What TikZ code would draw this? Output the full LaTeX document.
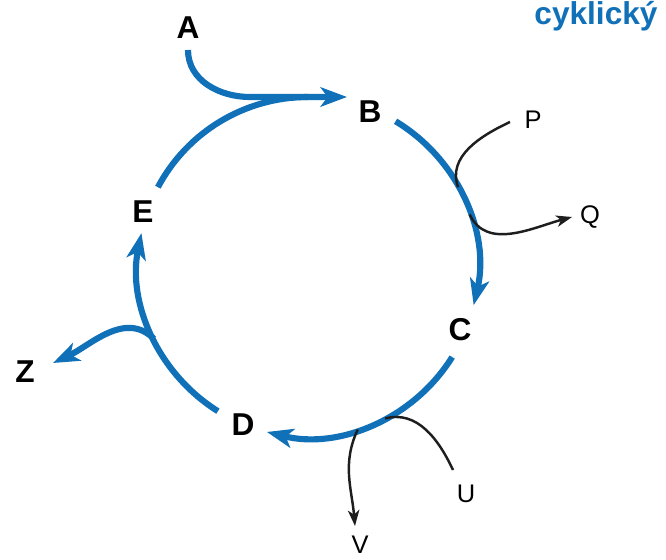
\documentclass[tikz,border=0pt]{standalone}
\usepackage{fontspec}
\setmainfont{Liberation Sans}
\usepackage{xcolor}
\usetikzlibrary{arrows.meta}
\definecolor{cycblue}{RGB}{16,112,184}
\definecolor{figline}{RGB}{30,30,30}
\tikzset{
  cyc/.style  ={draw=cycblue, line width=3.5pt, line cap=butt},
  cyca/.style ={cyc, -{Stealth[length=15pt,width=11pt,inset=4pt]}},
  side/.style ={draw=figline, line width=1.4pt},
  sidea/.style={side, -{Stealth[length=9pt,width=6.5pt,inset=2.5pt]}},
  lab/.style  ={font=\fontsize{18}{20}\selectfont\bfseries, inner sep=1pt},
  labs/.style ={font=\fontsize{14.5}{16}\selectfont, inner sep=1pt},
}

\begin{document}
\begin{tikzpicture}[x=0.02cm,y=0.02cm]
  \useasboundingbox (0,0) rectangle (666,559);
  \node[lab] (A) at (188,531) {A};
  \node[lab] (B) at (370,447) {B};
  \node[lab] (C) at (460,229) {C};
  \node[lab] (D) at (243,134) {D};
  \node[lab] (E) at (143,347) {E};
  \node[lab] (Z) at (25,187) {Z};
  \node[labs] (P) at (533,439) {P};
  \node[labs] (Q) at (590,342) {Q};
  \node[labs] (U) at (466,65) {U};
  \node[labs] (V) at (360,14) {V};
  \node[lab,text=cycblue,anchor=base] (title) at (596,534) {cyklický};
  \coordinate (a0) at (188,509);
  \coordinate (b0) at (347,462);
  \coordinate (p0) at (510,437);
  \coordinate (q0) at (572,342);
  \coordinate (u0) at (453,89);
  \coordinate (v0) at (355,33);
  \coordinate (z0) at (53,196);
  \begin{scope}[shift={(308,292)}]
  \coordinate (eb) at (152:170);
  \coordinate (bc) at (59:170);
  \coordinate (cd) at (-32:170);
  \coordinate (de) at (-122:170);
  \coordinate (top) at (90:170);
  \coordinate (pj) at (28:170);
  \coordinate (qj) at (18:170);
  \coordinate (uj) at (-63:170);
  \coordinate (vj) at (-73:170);
  \coordinate (zj) at (-155:170);
  \end{scope}
  \draw[cyc] (a0) to[out=-90,in=180] (250,462) -- (top);
  \draw[cyca] (eb) arc[start angle=152, end angle=90, radius=170] -- (b0);
  \draw[cyca] (bc) arc[start angle=59, end angle=-13, radius=170];
  \draw[cyca] (cd) arc[start angle=-32, end angle=-104, radius=170];
  \draw[cyca] (de) arc[start angle=238, end angle=168.5, radius=170];
  \draw[cyca] (zj) to[out=135,in=25] (z0);
  \draw[side] (p0) to[out=205,in=110] (pj);
  \draw[sidea] (qj) to[out=-65,in=195] (q0);
  \draw[side] (u0) to[out=115,in=15] (uj);
  \draw[sidea] (vj) to[out=-115,in=95] (v0);
\end{tikzpicture}
\end{document}
